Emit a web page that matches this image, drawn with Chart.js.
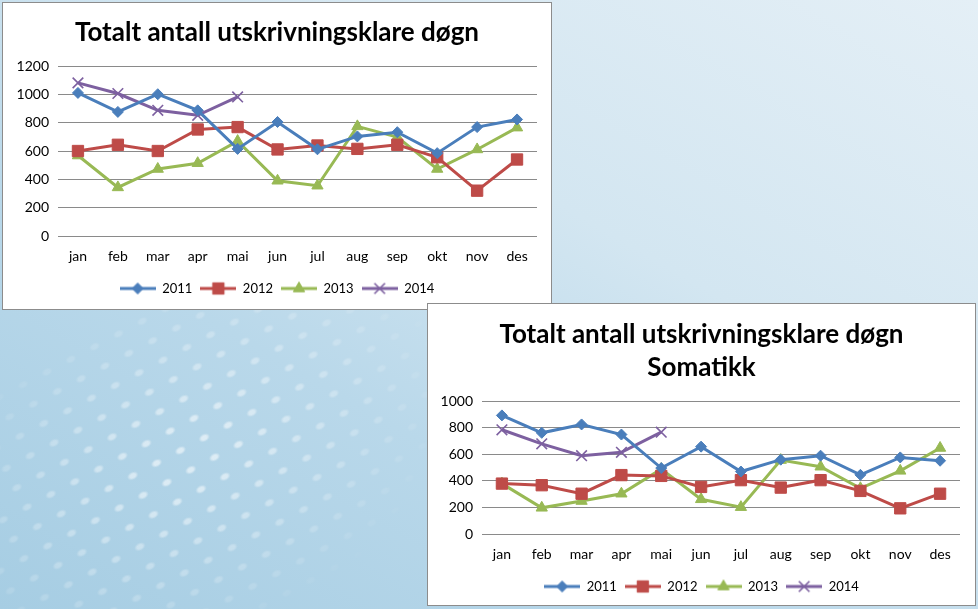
<!DOCTYPE html>
<html>
<head>
<meta charset="utf-8">
<script src="https://cdn.jsdelivr.net/npm/chart.js@4/dist/chart.umd.min.js"></script>
<style>
  html, body { margin: 0; padding: 0; }
  body {
    width: 978px; height: 609px; overflow: hidden; position: relative;
    background: linear-gradient(30deg, #a6cde3 0%, #b9d8ea 35%, #d3e6f1 62%, #e4eff6 100%);
  }
  .dots {
    position: absolute; left: -40px; top: 290px; width: 520px; height: 340px;
    transform: rotate(-28deg);
    background-image: radial-gradient(6px 4px at 50% 50%, rgba(255,255,255,0.55) 50%, rgba(255,255,255,0) 100%);
    background-size: 27px 22px;
    -webkit-mask-image: radial-gradient(ellipse at 45% 45%, #000 10%, transparent 70%);
    mask-image: radial-gradient(ellipse at 45% 45%, #000 10%, transparent 70%);
  }
  .box { position: absolute; background: #fff; border: 1px solid #8c8c8c; }
  #b1 { left: 2px; top: 2px; width: 548px; height: 306px; z-index: 1; }
  #b2 { left: 427px; top: 303px; width: 547px; height: 301px; z-index: 2; }
</style>
</head>
<body>
<div class="dots"></div>
<div class="box" id="b1"><canvas id="c1" width="548" height="306"></canvas></div>
<div class="box" id="b2"><canvas id="c2" width="547" height="301"></canvas></div>
<script>
// ── DATA ──────────────────────────────────────────────────────
const months = ['jan', 'feb', 'mar', 'apr', 'mai', 'jun', 'jul', 'aug', 'sep', 'okt', 'nov', 'des'];
const years  = ['2011', '2012', '2013', '2014'];

// Totalt antall utskrivningsklare døgn
const tot2011 = [1010, 876, 1001, 887, 615, 805, 612, 703, 733, 585, 769, 823];
const tot2012 = [600, 644, 600, 752, 769, 611, 639, 615, 644, 556, 320, 540];
const tot2013 = [568, 343, 473, 514, 670, 390, 355, 774, 698, 473, 611, 765];
const tot2014 = [1081, 1006, 887, 852, 982];

// Somatikk
const som2011 = [892, 761, 824, 748, 496, 657, 470, 559, 589, 445, 576, 551];
const som2012 = [379, 367, 303, 443, 437, 354, 405, 349, 405, 324, 193, 303];
const som2013 = [379, 197, 248, 303, 488, 261, 202, 556, 506, 344, 475, 647];
const som2014 = [784, 678, 589, 614, 766];

// ── STYLE ─────────────────────────────────────────────────────
const font = "Lato, 'Liberation Sans', sans-serif";
const gridColor = '#8a8a8a';
const seriesStyle = [
  { color: '#4a7ebb', pointStyle: 'rectRot',  radius: 5.5 },
  { color: '#be4b48', pointStyle: 'rect',     radius: 8 },
  { color: '#98b954', pointStyle: 'triangle', radius: 6.5 },
  { color: '#7d60a0', pointStyle: 'crossRot', radius: 7.5 }
];

// legend swatch: line with marker, like the spreadsheet legend
function swatch(s) {
  const c = document.createElement('canvas');
  c.width = 36; c.height = 16;
  const ctx = c.getContext('2d');
  ctx.strokeStyle = s.color; ctx.lineWidth = 3;
  ctx.beginPath(); ctx.moveTo(0, 8); ctx.lineTo(36, 8); ctx.stroke();
  ctx.fillStyle = s.color; ctx.lineWidth = s.pointStyle === 'crossRot' ? 1.6 : 1;
  Chart.helpers.drawPoint(ctx, { pointStyle: s.pointStyle, radius: s.radius, borderWidth: ctx.lineWidth, rotation: 0 }, 18, 8);
  return c;
}
const swatches = seriesStyle.map(swatch);

function makeChart(id, title, series, yMax, opts) {
  return new Chart(document.getElementById(id), {
    type: 'line',
    data: {
      labels: months,
      datasets: series.map((d, i) => ({
        label: years[i],
        data: d,
        borderColor: seriesStyle[i].color,
        backgroundColor: seriesStyle[i].color,
        pointBackgroundColor: seriesStyle[i].color,
        pointBorderColor: seriesStyle[i].color,
        pointStyle: seriesStyle[i].pointStyle,
        pointRadius: seriesStyle[i].radius,
        pointBorderWidth: seriesStyle[i].pointStyle === 'crossRot' ? 1.6 : 1,
        borderWidth: 3,
        tension: 0
      }))
    },
    options: {
      responsive: false,
      animation: false,
      layout: { padding: { left: 0, right: 0, top: 0, bottom: opts.bottom } },
      plugins: {
        title: {
          display: true, text: title, color: '#000',
          font: { family: font, size: 26, weight: 'bold', lineHeight: 1.27 },
          padding: opts.titlePad
        },
        legend: {
          position: 'bottom',
          labels: {
            color: '#000', font: { family: font, size: 13 },
            usePointStyle: true, pointStyleWidth: 36, padding: 8,
            generateLabels: chart => {
              const items = Chart.defaults.plugins.legend.labels.generateLabels(chart);
              items.forEach((it, i) => { it.pointStyle = swatches[i]; });
              return items;
            }
          }
        },
        tooltip: { enabled: false }
      },
      scales: {
        x: {
          offset: true,
          afterFit: s => { s.height = opts.xHeight; },
          grid: { display: false, drawTicks: false },
          border: { display: false },
          ticks: { color: '#000', font: { family: font, size: 14 }, padding: 12, maxRotation: 0 }
        },
        y: {
          min: 0, max: yMax,
          afterFit: s => { s.width = opts.yWidth; },
          grid: { color: gridColor, drawTicks: false },
          border: { display: false },
          ticks: { stepSize: 200, color: '#000', font: { family: font, size: 14 }, padding: 9,
                   callback: v => String(v) }
        },
        // empty right-hand gutter so the title stays centred on the whole box
        gutter: {
          type: 'linear', position: 'right',
          afterFit: s => { s.width = opts.rightGap; },
          grid: { display: false, drawTicks: false },
          border: { display: false },
          ticks: { display: false }
        }
      }
    }
  });
}

makeChart('c1', 'Totalt antall utskrivningsklare døgn',
  [tot2011, tot2012, tot2013, tot2014], 1200,
  { bottom: 4, titlePad: { top: 13, bottom: 17 }, xHeight: 38, yWidth: 55, rightGap: 14 });

makeChart('c2', ['Totalt antall utskrivningsklare døgn', 'Somatikk'],
  [som2011, som2012, som2013, som2014], 1000,
  { bottom: 2, titlePad: { top: 14, bottom: 17 }, xHeight: 38, yWidth: 54, rightGap: 15 });
</script>
</body>
</html>
